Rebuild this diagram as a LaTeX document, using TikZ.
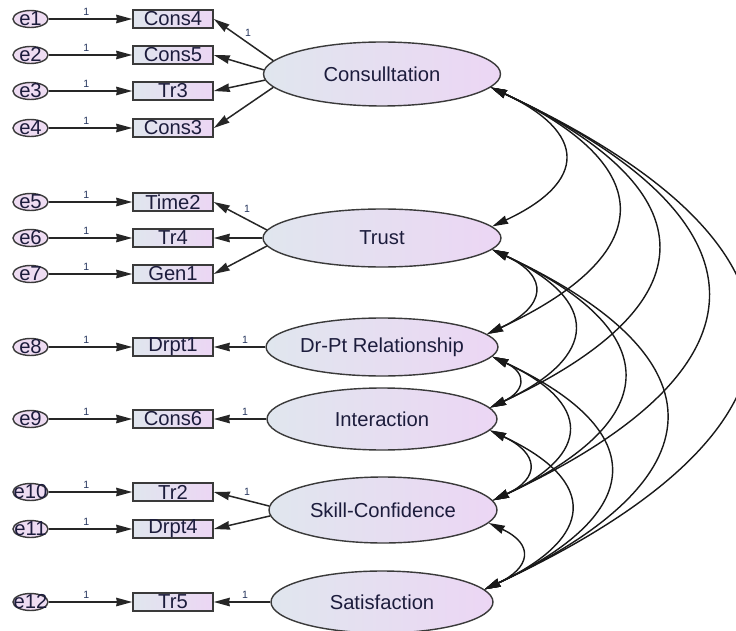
\documentclass[tikz,border=0pt]{standalone}
\usepackage{fontspec}
\setmainfont{Liberation Sans}
\usetikzlibrary{arrows.meta,shapes.geometric}
\definecolor{gl}{HTML}{E0E6EE}
\definecolor{gr}{HTML}{ECD6F4}
\definecolor{ef}{HTML}{EEDCF2}
\definecolor{ink}{HTML}{1C1C3C}
\definecolor{bord}{HTML}{3A3A3A}
\definecolor{onec}{HTML}{26365E}
\begin{document}
\begin{tikzpicture}[x=0.02cm,y=-0.02cm,
  >={Stealth[length=0.32cm,width=0.17cm,inset=0.015cm]},
  latent/.style={ellipse, draw=bord, line width=0.8pt, left color=gl, right color=gr,
    inner sep=0pt, text=ink, font=\fontsize{11.5}{13}\selectfont},
  obs/.style={rectangle, draw=bord, line width=0.9pt, left color=gl, right color=gr,
    minimum width=1.6cm, minimum height=0.36cm, inner sep=0pt, text=ink,
    font=\fontsize{11.5}{13}\selectfont},
  err/.style={ellipse, draw=bord, line width=0.8pt, fill=ef,
    minimum width=0.7cm, minimum height=0.34cm, inner sep=0pt},
  etxt/.style={inner sep=0pt, text=ink, font=\fontsize{11.5}{13}\selectfont},
  one/.style={inner sep=0pt, text=onec, font=\fontsize{6}{7}\selectfont},
  pathl/.style={->, line width=0.85pt, draw=black!85},
  cov/.style={<->, line width=0.8pt, draw=black!90, out=-25, in=25, looseness=1.95}]

\useasboundingbox (0,0) rectangle (736,631);
\fill[white] (0,0) rectangle (736,631);
\clip (0,0) rectangle (736,631);

% error terms and indicators
\foreach \n/\y/\t in {1/19/Cons4, 2/55/Cons5, 3/91/Tr3, 4/128/Cons3,
                      5/202/Time2, 6/238/Tr4, 7/274/Gen1, 8/347/Drpt1,
                      9/419/Cons6, 10/492/Tr2, 11/529/Drpt4, 12/602/Tr5} {
  \node[err] (e\n) at (30.5,\y) {};
  \node[etxt] (te\n) at (e\n.center) {e\n};
  \node[obs] (b\n) at (173,\y) {\t};
  \draw[pathl] (e\n) -- node[one, pos=0.45, above=1.6pt] (o\n) {1} (b\n);
}

% latent variables
\node[latent, minimum width=4.74cm, minimum height=1.28cm] (cons) at (382,74) {Consulltation};
\node[latent, minimum width=4.76cm, minimum height=1.16cm] (trust) at (382,238) {Trust};
\node[latent, minimum width=4.62cm, minimum height=1.16cm] (drpt) at (382,347) {Dr-Pt Relationship};
\node[latent, minimum width=4.60cm, minimum height=1.24cm] (inter) at (382,419) {Interaction};
\node[latent, minimum width=4.56cm, minimum height=1.32cm] (skill) at (383,510) {Skill-Confidence};
\node[latent, minimum width=4.44cm, minimum height=1.24cm] (sat) at (382,602) {Satisfaction};

% loadings
\draw[pathl] (cons.173) -- (b1.east);
\draw[pathl] (cons.178) -- (b2.east);
\draw[pathl] (cons.183) -- (b3.east);
\draw[pathl] (cons.187) -- (b4.east);
\draw[pathl] (trust.176) -- (b5.east);
\draw[pathl] (trust.west) -- (b6.east);
\draw[pathl] (trust.184) -- (b7.east);
\draw[pathl] (drpt.west) -- (b8.east);
\draw[pathl] (inter.west) -- (b9.east);
\draw[pathl] (skill.178) -- (b10.east);
\draw[pathl] (skill.183) -- (b11.east);
\draw[pathl] (sat.west) -- (b12.east);

\node[one] (l1) at (248,33) {1};
\node[one] (l2) at (247,209) {1};
\node[one] (l3) at (245,340) {1};
\node[one] (l4) at (245,412) {1};
\node[one] (l5) at (247,492) {1};
\node[one] (l6) at (245,595) {1};

% covariances
\draw[cov] (cons.-7) to (trust.6);
\draw[cov] (cons.-7) to (drpt.7);
\draw[cov] (cons.-7) to (inter.6);
\draw[cov] (cons.-7) to (skill.5);
\draw[cov] (cons.-7) to (sat.7);
\draw[cov] (trust.-6) to (drpt.7);
\draw[cov] (trust.-6) to (inter.6);
\draw[cov] (trust.-6) to (skill.5);
\draw[cov] (trust.-6) to (sat.7);
\draw[cov] (drpt.-5) to (inter.6);
\draw[cov] (drpt.-5) to (skill.5);
\draw[cov] (drpt.-5) to (sat.7);
\draw[cov] (inter.-6) to (skill.5);
\draw[cov] (inter.-6) to (sat.7);
\draw[cov] (skill.-7) to (sat.7);
\end{tikzpicture}
\end{document}
